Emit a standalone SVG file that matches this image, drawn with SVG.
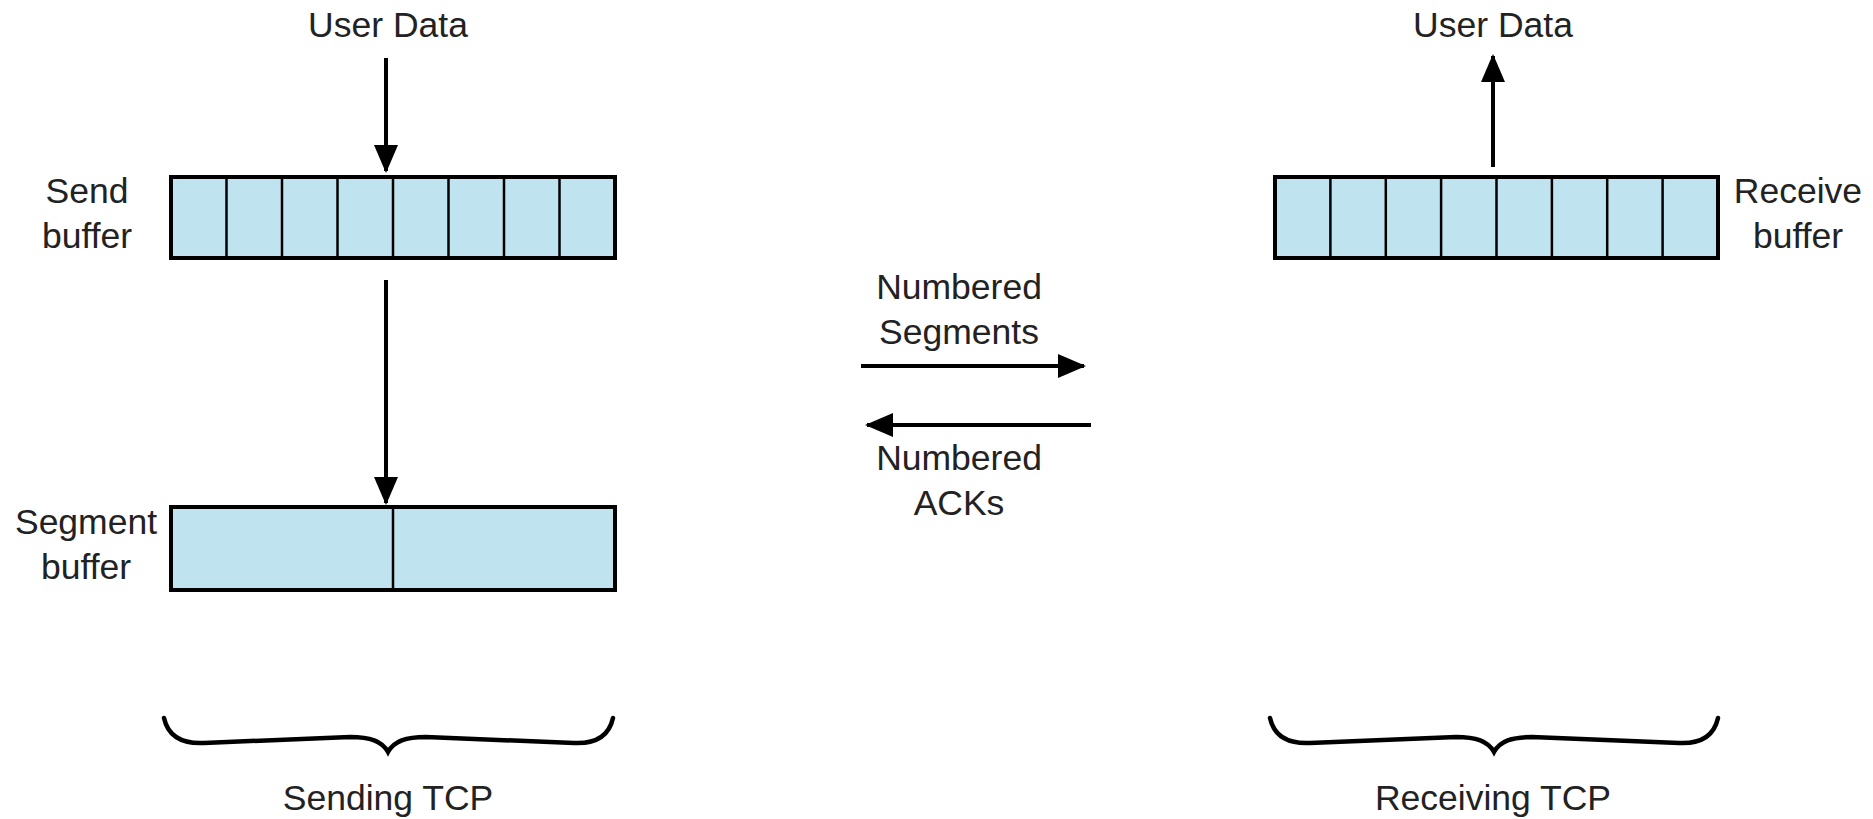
<svg xmlns="http://www.w3.org/2000/svg" width="1873" height="819" viewBox="0 0 1873 819">
<defs>
<style>
.t{font-family:"Liberation Sans",Arial,sans-serif;font-size:35.5px;fill:#222;text-anchor:middle}
.buf{fill:#c0e4ef;stroke:#000;stroke-width:4}
.div{stroke:#000;stroke-width:2.5}
.arr{stroke:#000;stroke-width:4;fill:none}
.brace{stroke:#000;stroke-width:4.5;fill:none;stroke-linecap:round}
</style>
<marker id="ah" markerUnits="userSpaceOnUse" markerWidth="30" markerHeight="26" refX="26" refY="12" orient="auto">
<path d="M0,0 L28,12 L0,24 Z" fill="#000"/>
</marker>
</defs>
<rect width="1873" height="819" fill="#fff"/>

<g id="send-buffer">
<rect class="buf" x="171" y="177" width="444" height="81"/>
<path class="div" d="M226.5,177V258M282,177V258M337.5,177V258M393,177V258M448.5,177V258M504,177V258M559.5,177V258"/>
<text class="t" x="87" y="203">Send</text>
<text class="t" x="87" y="248">buffer</text>
</g>

<g id="segment-buffer">
<rect class="buf" x="171" y="507" width="444" height="83"/>
<path class="div" d="M393,507V590"/>
<text class="t" x="86" y="534">Segment</text>
<text class="t" x="86" y="579">buffer</text>
</g>

<g id="receive-buffer">
<rect class="buf" x="1275" y="177" width="443" height="81"/>
<path class="div" d="M1330.4,177V258M1385.8,177V258M1441.1,177V258M1496.5,177V258M1551.9,177V258M1607.2,177V258M1662.6,177V258"/>
<text class="t" x="1798" y="203">Receive</text>
<text class="t" x="1798" y="248">buffer</text>
</g>

<g id="user-data-send">
<text class="t" x="388" y="37">User Data</text>
</g>
<g id="user-data-recv">
<text class="t" x="1493" y="37">User Data</text>
</g>

<g id="sending-tcp">
<path class="brace" d="M164,718 C168,736 182,744 204,743 L350,737 C370,737 382,741 388,752 C394,741 406,737 426,737 L574,743 C596,744 609,736 613,718"/>
<text class="t" x="388" y="810">Sending TCP</text>
</g>
<g id="receiving-tcp">
<path class="brace" d="M1270,718 C1274,736 1288,744 1310,743 L1456,737 C1476,737 1488,741 1494,752 C1500,741 1512,737 1532,737 L1679,743 C1701,744 1714,736 1718,718"/>
<text class="t" x="1493" y="810">Receiving TCP</text>
</g>

<g id="segments-label">
<text class="t" x="959" y="299">Numbered</text>
<text class="t" x="959" y="344">Segments</text>
</g>
<g id="acks-label">
<text class="t" x="959" y="470">Numbered</text>
<text class="t" x="959" y="515">ACKs</text>
</g>

<g id="connectors">
<line class="arr" x1="386" y1="58" x2="386" y2="171" marker-end="url(#ah)"/>
<line class="arr" x1="386" y1="280" x2="386" y2="503" marker-end="url(#ah)"/>
<line class="arr" x1="1493" y1="167" x2="1493" y2="56" marker-end="url(#ah)"/>
<line class="arr" x1="861" y1="366" x2="1084" y2="366" marker-end="url(#ah)"/>
<line class="arr" x1="1091" y1="425" x2="867" y2="425" marker-end="url(#ah)"/>
</g>
</svg>
